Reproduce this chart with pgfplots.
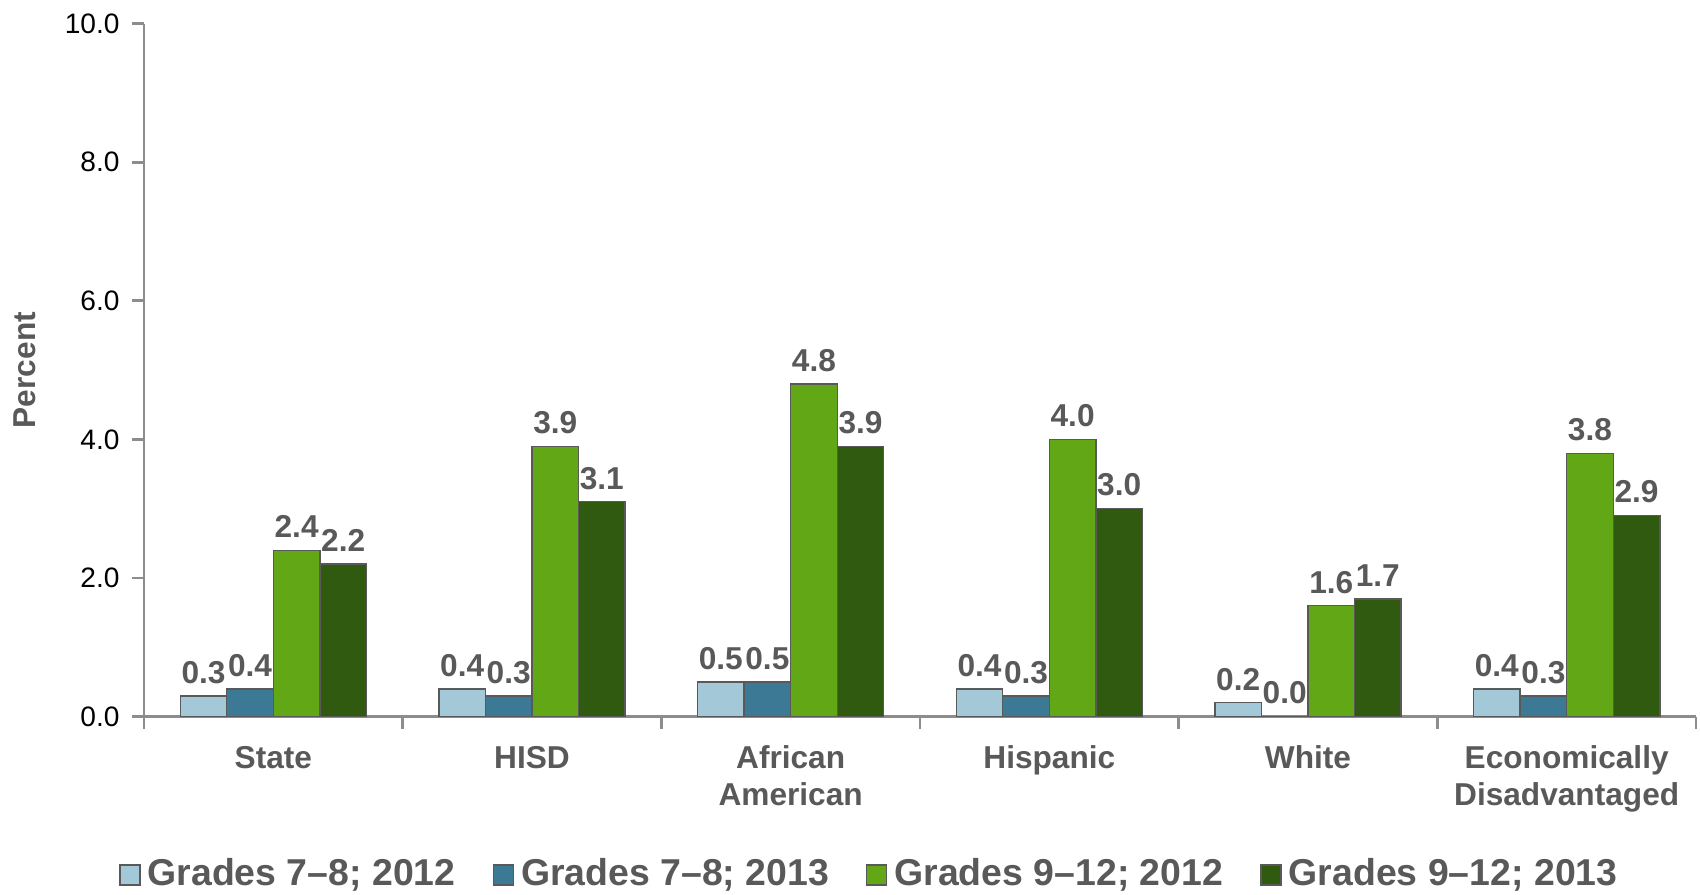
\documentclass[border=0pt]{standalone}
\usepackage{fontspec}
\setmainfont{Liberation Sans}
\usepackage{pgfplots}
\pgfplotsset{compat=1.18}

\definecolor{lblue}{HTML}{A3C8D7}
\definecolor{tblue}{HTML}{3B7995}
\definecolor{lgreen}{HTML}{62A816}
\definecolor{dgreen}{HTML}{305A10}
\definecolor{txtgray}{HTML}{595959}
\definecolor{axgray}{HTML}{8C8C8C}

% x: 0 State, 1 HISD, 2 African American, 3 Hispanic, 4 White, 5 Econ. Disadv.
\pgfplotstableread{
x  a    b    c    d
0  0.3  0.4  2.4  2.2
1  0.4  0.3  3.9  3.1
2  0.5  0.5  4.8  3.9
3  0.4  0.3  4.0  3.0
4  0.2  0.0  1.6  1.7
5  0.4  0.3  3.8  2.9
}\rates

\pgfplotsset{
  bevel/.style={draw=black!65, line width=0.4pt, fill=#1},
}

\begin{document}
\begin{tikzpicture}
\useasboundingbox (-1.44,-1.774) rectangle (15.56,7.166);
\begin{axis}[
    scale only axis,
    width=15.52cm, height=6.93cm,
    ybar=0pt, bar width=0.18,
    xmin=-0.5, xmax=5.5,
    ymin=0, ymax=10,
    axis lines*=left,
    axis line style={axgray, line width=0.8pt},
    tick align=outside,
    tick style={axgray, line width=0.8pt},
    major tick length=0.12cm,
    xtick={0,...,5},
    major x tick style={draw=none},
    minor xtick={-0.5,0.5,...,5.5},
    minor tick length=0.12cm,
    xticklabels={State, HISD, {African\\American}, Hispanic, White, {Economically\\Disadvantaged}},
    xticklabel style={align=center, text=txtgray, font=\fontsize{9}{10.4}\selectfont\bfseries, yshift=-0.05cm},
    ytick={0,2,...,10},
    yticklabel style={font=\fontsize{8}{9.6}\selectfont, text=black},
    /pgf/number format/assume math mode=true,
    yticklabel={\pgfmathprintnumber[fixed, fixed zerofill, precision=1]{\tick}},
    ylabel={Percent},
    ylabel style={font=\fontsize{9}{10.8}\selectfont\bfseries, text=txtgray,
        at={(axis description cs:-0.077,0.5)}, anchor=center, rotate=0},
    nodes near coords,
    nodes near coords style={font=\fontsize{9}{10.8}\selectfont\bfseries, text=txtgray},
    every node near coord/.append style={/pgf/number format/.cd, fixed, fixed zerofill, precision=1, assume math mode=true},
    legend columns=4,
    legend style={draw=none, fill=none, at={(rel axis cs:0.469,-0.2286)}, anchor=center,
        font=\fontsize{10.65}{12.8}\selectfont\bfseries, text=txtgray,
        /tikz/every even column/.append style={column sep=0.30cm}},
    legend image code/.code={\path[#1] (0cm,-0.1cm) rectangle (0.2cm,0.1cm);},
]
\addplot[bevel=lblue] table[x=x, y=a] {\rates};
\addplot[bevel=tblue] table[x=x, y=b] {\rates};
\addplot[bevel=lgreen] table[x=x, y=c] {\rates};
\addplot[bevel=dgreen] table[x=x, y=d] {\rates};
\legend{Grades 7–8; 2012, Grades 7–8; 2013, Grades 9–12; 2012, Grades 9–12; 2013}
\end{axis}
\end{tikzpicture}
\end{document}
